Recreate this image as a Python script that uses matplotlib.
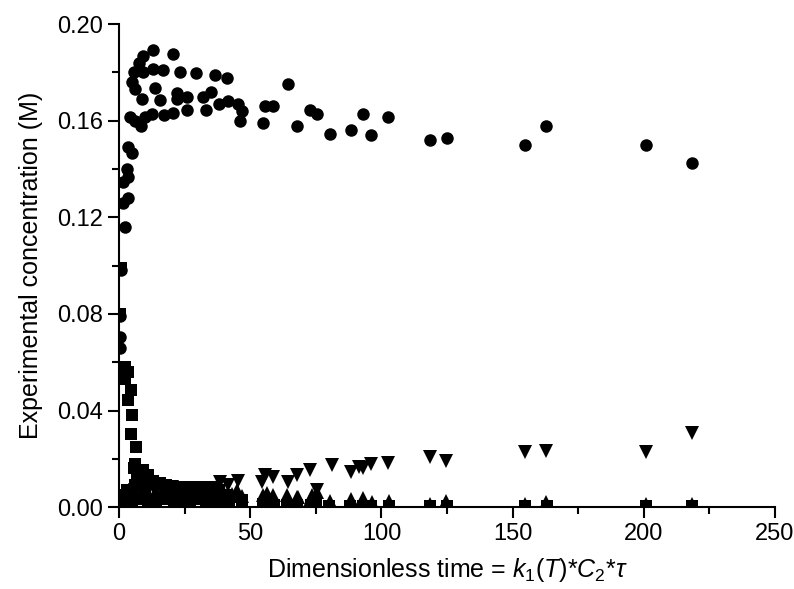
import matplotlib
matplotlib.use("Agg")
import matplotlib.pyplot as plt
from matplotlib.ticker import MultipleLocator, FormatStrFormatter

plt.rcParams['font.family'] = ['Liberation Sans', 'DejaVu Sans']
plt.rcParams['mathtext.fontset'] = 'custom'
plt.rcParams['mathtext.rm'] = 'Liberation Sans'
plt.rcParams['mathtext.it'] = 'Liberation Sans:italic'

# circles (product)
circ_x = [0.3, 0.3, 0.5, 0.6, 2.3, 1.6, 3.5, 1.6, 3.5, 2.9, 4.8, 3.5,
          4.2, 6.1, 8.3, 9.9, 12.5, 17.1, 20.7, 25.8, 33.1,
          4.8, 6.1, 13.7, 8.9, 15.6, 22.0, 22.0, 26.0, 32.1, 35.0,
          38.2, 41.6, 45.5, 46.7, 46.1,
          5.7, 9.3, 13.1, 16.9, 23.2, 29.3, 36.6, 41.0,
          7.4, 9.3, 13.1, 20.7,
          55.6, 58.8, 55.0, 64.5, 67.9, 72.8, 75.5, 80.4, 88.3, 93.1, 96.0,
          102.6, 118.7, 125.1, 154.7, 162.9, 201.0, 218.5]
circ_y = [0.0657, 0.0705, 0.079, 0.098, 0.116, 0.126, 0.128, 0.1345, 0.1365, 0.140, 0.1465, 0.149,
          0.1616, 0.160, 0.158, 0.1616, 0.163, 0.1623, 0.1634, 0.1644, 0.1644,
          0.176, 0.173, 0.1734, 0.169, 0.1685, 0.1713, 0.1692, 0.170, 0.170, 0.172,
          0.167, 0.168, 0.167, 0.164, 0.160,
          0.180, 0.180, 0.1816, 0.181, 0.180, 0.1796, 0.1789, 0.1778,
          0.184, 0.187, 0.1895, 0.1876,
          0.166, 0.166, 0.159, 0.1754, 0.1578, 0.1644, 0.1626, 0.1547, 0.156, 0.163, 0.154,
          0.1616, 0.152, 0.153, 0.150, 0.1578, 0.150, 0.1427]

# squares (reactant)
sq_x = [0.6, 0.5, 2.3, 3.5, 2.3, 4.5, 3.5, 4.8, 4.5, 6.5, 6.1, 5.5, 7.0, 8.0,
        9.3, 11.2, 13.1, 15.6, 6.0, 3.0, 1.5, 10.0,
        18, 20, 23, 26, 29, 32, 35, 38, 41, 45, 47,
        2, 5, 8, 11, 14, 17, 21, 24, 27, 30, 33, 36, 39, 42,
        55, 59, 64, 68, 73, 75, 80, 88, 93, 96, 103, 118.7, 125, 154.7, 163, 201, 218.5]
sq_y = [0.099, 0.080, 0.058, 0.056, 0.053, 0.0484, 0.0443, 0.038, 0.0302, 0.0247, 0.018, 0.016, 0.013, 0.011,
        0.0153, 0.0132, 0.011, 0.0098, 0.009, 0.007, 0.005, 0.008,
        0.009, 0.0085, 0.0085, 0.008, 0.0085, 0.008, 0.008, 0.007, 0.005, 0.004, 0.003,
        0.0025, 0.003, 0.0035, 0.003, 0.003, 0.0035, 0.003, 0.0028, 0.003, 0.0032, 0.003, 0.0028,
        0.003, 0.0025,
        0.0015, 0.001, 0.001, 0.001, 0.0008, 0.0008, 0.0005, 0.0005, 0.0005, 0.0005, 0.0004,
        0.0004, 0.0003, 0.0004, 0.0003, 0.0004, 0.0004]

# down triangles
dn_x = [2, 4, 6, 8, 10, 13, 16, 20, 23, 26, 30, 33, 36, 38.5, 41.5, 45.5,
        54.4, 55.6, 58.8, 64.5, 67.7, 72.8, 75.5, 81.0, 88.3, 91.5, 93.1, 95.9,
        102.6, 118.7, 124.8, 154.7, 162.9, 201.0, 218.5]
dn_y = [0.004, 0.005, 0.007, 0.008, 0.0085, 0.0085, 0.008, 0.0082, 0.008, 0.0078, 0.0075, 0.0078, 0.008,
        0.0105, 0.009, 0.011,
        0.0105, 0.0132, 0.0125, 0.0105, 0.0132, 0.0153, 0.007, 0.0174, 0.0146, 0.0167, 0.016, 0.018,
        0.0183, 0.0206, 0.019, 0.0229, 0.0233, 0.0229, 0.0308]

# up triangles
up_x = [1, 3, 5, 7, 9, 11, 14, 17, 20, 22, 25, 28, 31, 34, 37, 40, 43, 44.8, 47,
        55.0, 56.3, 58.8, 63.9, 64.5, 67.7, 68.3, 72.8, 73.4, 75.5, 80.4, 88.3, 93.1, 96.3,
        103.0, 118.7, 124.8, 154.7, 162.9, 200.8, 218.5]
up_y = [0.002, 0.003, 0.004, 0.005, 0.006, 0.006, 0.0065, 0.0067, 0.007, 0.0068, 0.007, 0.0068,
        0.007, 0.0068, 0.006, 0.006, 0.0055, 0.007, 0.0045,
        0.005, 0.0057, 0.005, 0.005, 0.0036, 0.0043, 0.0043, 0.003, 0.005, 0.0063, 0.0025, 0.0032,
        0.0036, 0.0022, 0.0026, 0.0015, 0.0025, 0.0012, 0.0022, 0.0015, 0.0012]

fig = plt.figure(figsize=(7.94, 5.89), dpi=100)
ax = fig.add_axes([0.150, 0.139, 0.826, 0.820])

ax.plot(sq_x, sq_y, 's', color='black', ms=8, mew=0)
ax.plot(up_x, up_y, '^', color='black', ms=10, mew=0)
ax.plot(dn_x, dn_y, 'v', color='black', ms=10, mew=0)
ax.plot(circ_x, circ_y, 'o', color='black', ms=9, mew=0)

ax.set_xlim(0, 250)
ax.set_ylim(0, 0.20)
ax.xaxis.set_major_locator(MultipleLocator(50))
ax.xaxis.set_minor_locator(MultipleLocator(25))
ax.yaxis.set_major_locator(MultipleLocator(0.04))
ax.yaxis.set_minor_locator(MultipleLocator(0.02))
ax.yaxis.set_major_formatter(FormatStrFormatter('%.2f'))

for side in ['top', 'right']:
    ax.spines[side].set_visible(False)
for side in ['left', 'bottom']:
    ax.spines[side].set_linewidth(1.5)
ax.tick_params(which='major', direction='out', length=8, width=1.5, labelsize=17)
ax.tick_params(which='minor', direction='out', length=5, width=1.5)

ax.set_xlabel(r'Dimensionless time = $k_1$$(T)$*$C_2$*$\tau$', fontsize=18, labelpad=8)
ax.set_ylabel('Experimental concentration (M)', fontsize=18, labelpad=10)

fig.savefig('out.png', dpi=100)
